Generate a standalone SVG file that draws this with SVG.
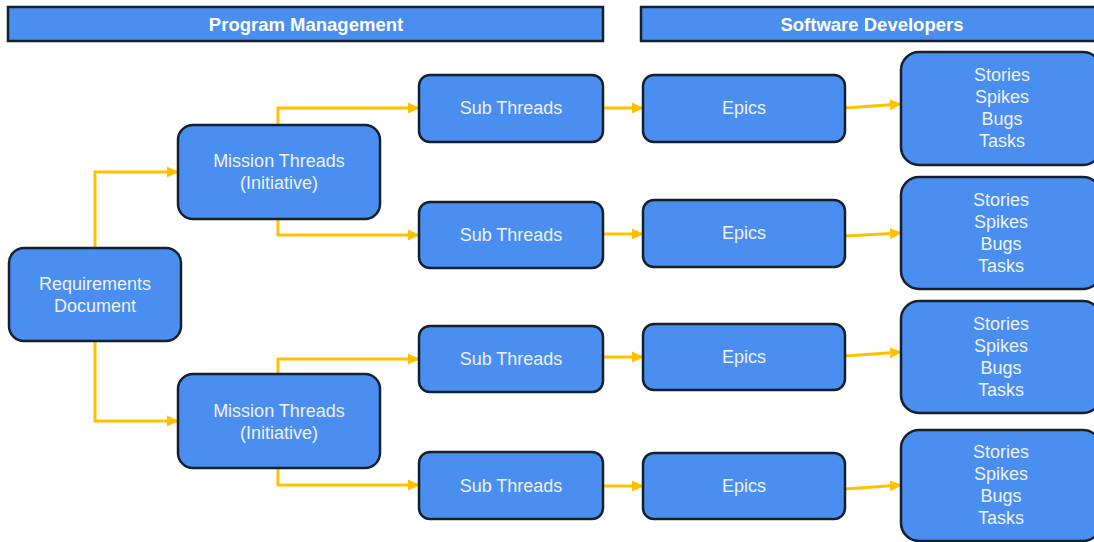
<svg xmlns="http://www.w3.org/2000/svg" width="1094" height="542" viewBox="0 0 1094 542">
  <defs>
    <marker id="arrow" markerWidth="12" markerHeight="12" refX="11" refY="6" orient="auto" markerUnits="userSpaceOnUse">
      <path d="M0,0.5 L12,6 L0,11.5 Z" fill="#ffc000"/>
    </marker>
    <style>
      .box { fill: #4a8ef0; stroke: #15202e; stroke-width: 2.5; }
      .hdr { fill: #4a8ef0; stroke: #15202e; stroke-width: 2.5; }
      .lbl { font-family: "Liberation Sans", Arial, sans-serif; font-size: 18px; fill: #eef2ff; text-anchor: middle; dominant-baseline: central; }
      .hlbl { font-family: "Liberation Sans", Arial, sans-serif; font-size: 18.5px; font-weight: bold; fill: #ffffff; text-anchor: middle; dominant-baseline: central; }
      .conn { fill: none; stroke: #ffc000; stroke-width: 3; marker-end: url(#arrow); }
    </style>
  </defs>
  <rect width="1094" height="542" fill="#ffffff"/>

  <!-- column headers -->
  <g id="hdr-pm">
    <rect class="hdr" x="8" y="7" width="595" height="34"/>
    <text class="hlbl" x="306" y="24">Program Management</text>
  </g>
  <g id="hdr-dev">
    <rect class="hdr" x="641" y="7" width="460" height="34"/>
    <text class="hlbl" x="872" y="24">Software Developers</text>
  </g>

  <!-- connectors -->
  <g id="connectors">
    <path class="conn" d="M95,248 V172 H178"/>
    <path class="conn" d="M95,341 V421 H178"/>
    <path class="conn" d="M278,125 V108 H419"/>
    <path class="conn" d="M278,219 V235 H419"/>
    <path class="conn" d="M278,374 V359 H419"/>
    <path class="conn" d="M278,468 V485 H419"/>
    <path class="conn" d="M603,108 H643"/>
    <path class="conn" d="M603,234 H643"/>
    <path class="conn" d="M603,357 H643"/>
    <path class="conn" d="M603,486 H643"/>
    <path class="conn" d="M845,108 L901,104"/>
    <path class="conn" d="M845,236 L901,233"/>
    <path class="conn" d="M845,356 L901,352"/>
    <path class="conn" d="M845,489 L901,485"/>
  </g>

  <!-- source document -->
  <g id="requirements">
    <rect class="box" x="9" y="248" width="172" height="93" rx="15"/>
    <text class="lbl" x="95" y="284">Requirements</text>
    <text class="lbl" x="95" y="306">Document</text>
  </g>

  <!-- initiatives -->
  <g id="mission-1">
    <rect class="box" x="178" y="125" width="202" height="94" rx="15"/>
    <text class="lbl" x="279" y="161">Mission Threads</text>
    <text class="lbl" x="279" y="183">(Initiative)</text>
  </g>
  <g id="mission-2">
    <rect class="box" x="178" y="374" width="202" height="94" rx="15"/>
    <text class="lbl" x="279" y="411">Mission Threads</text>
    <text class="lbl" x="279" y="433">(Initiative)</text>
  </g>

  <!-- sub threads -->
  <g id="sub-1">
    <rect class="box" x="419" y="75" width="184" height="67" rx="11"/>
    <text class="lbl" x="511" y="108">Sub Threads</text>
  </g>
  <g id="sub-2">
    <rect class="box" x="419" y="202" width="184" height="66" rx="11"/>
    <text class="lbl" x="511" y="235">Sub Threads</text>
  </g>
  <g id="sub-3">
    <rect class="box" x="419" y="326" width="184" height="66" rx="11"/>
    <text class="lbl" x="511" y="359">Sub Threads</text>
  </g>
  <g id="sub-4">
    <rect class="box" x="419" y="452" width="184" height="67" rx="11"/>
    <text class="lbl" x="511" y="486">Sub Threads</text>
  </g>

  <!-- epics -->
  <g id="epic-1">
    <rect class="box" x="643" y="75" width="202" height="67" rx="11"/>
    <text class="lbl" x="744" y="108">Epics</text>
  </g>
  <g id="epic-2">
    <rect class="box" x="643" y="200" width="202" height="67" rx="11"/>
    <text class="lbl" x="744" y="233">Epics</text>
  </g>
  <g id="epic-3">
    <rect class="box" x="643" y="324" width="202" height="66" rx="11"/>
    <text class="lbl" x="744" y="357">Epics</text>
  </g>
  <g id="epic-4">
    <rect class="box" x="643" y="453" width="202" height="66" rx="11"/>
    <text class="lbl" x="744" y="486">Epics</text>
  </g>

  <!-- work items -->
  <g id="items-1">
    <rect class="box" x="901" y="52" width="200" height="113" rx="18"/>
    <text class="lbl" x="1002" y="75">Stories</text>
    <text class="lbl" x="1002" y="97">Spikes</text>
    <text class="lbl" x="1002" y="119">Bugs</text>
    <text class="lbl" x="1002" y="141">Tasks</text>
  </g>
  <g id="items-2">
    <rect class="box" x="901" y="177" width="200" height="112" rx="18"/>
    <text class="lbl" x="1001" y="200">Stories</text>
    <text class="lbl" x="1001" y="222">Spikes</text>
    <text class="lbl" x="1001" y="244">Bugs</text>
    <text class="lbl" x="1001" y="266">Tasks</text>
  </g>
  <g id="items-3">
    <rect class="box" x="901" y="301" width="200" height="112" rx="18"/>
    <text class="lbl" x="1001" y="324">Stories</text>
    <text class="lbl" x="1001" y="346">Spikes</text>
    <text class="lbl" x="1001" y="368">Bugs</text>
    <text class="lbl" x="1001" y="390">Tasks</text>
  </g>
  <g id="items-4">
    <rect class="box" x="901" y="430" width="200" height="111" rx="18"/>
    <text class="lbl" x="1001" y="452">Stories</text>
    <text class="lbl" x="1001" y="474">Spikes</text>
    <text class="lbl" x="1001" y="496">Bugs</text>
    <text class="lbl" x="1001" y="518">Tasks</text>
  </g>
</svg>
